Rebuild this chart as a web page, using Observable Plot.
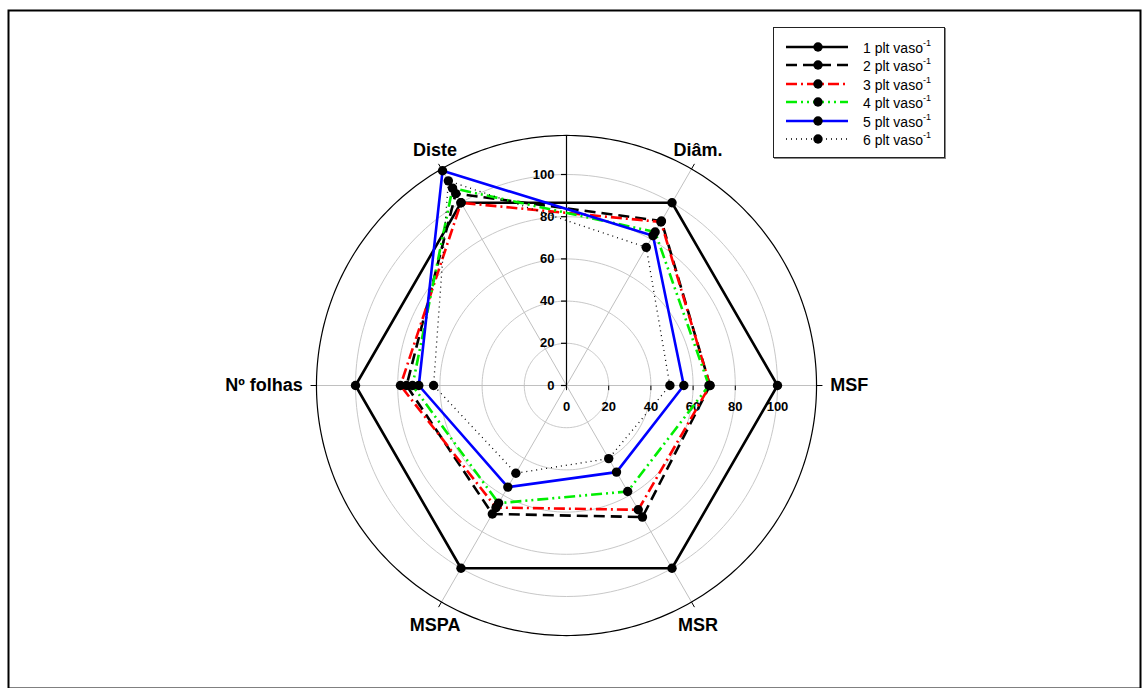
<!DOCTYPE html>
<html><head><meta charset="utf-8">
<script src="https://cdn.jsdelivr.net/npm/d3@7"></script>
<script src="https://cdn.jsdelivr.net/npm/@observablehq/plot@0.6"></script>
<style>
body{margin:0;background:#fff;font-family:"Liberation Sans",Arial,sans-serif;}
#wrap{position:relative;width:1148px;height:688px;overflow:hidden;}
#legend{position:absolute;left:773px;top:27px;width:172px;height:131px;border:1px solid #222;box-sizing:border-box;background:#fff;box-shadow:1px 1px 0 #888;}
.row{position:absolute;left:0;height:18px;width:170px;}
.row svg{position:absolute;left:0;top:0;}
.row span{position:absolute;left:89px;top:1px;font-size:14px;color:#000;white-space:nowrap;}
.row sup{font-size:9px;position:relative;top:-1px;}
</style></head>
<body><div id="wrap"><div id="chart"></div><div id="legend"></div></div>
<script>
const axes = ["MSF","Diâm.","Diste","Nº folhas","MSPA","MSR"];
const seriesNames = ["1 plt vaso","2 plt vaso","3 plt vaso","4 plt vaso","5 plt vaso","6 plt vaso"];
const s1 = [100, 100, 100, 100, 100, 100];
const s2 = [68, 90, 105, 75.8, 70.3, 72];
const s3 = [68, 89.5, 100, 78.7, 66.8, 68];
const s4 = [67.5, 84, 108, 73, 64.4, 58];
const s5 = [55.6, 82, 117.5, 70, 55.6, 47.4];
const s6 = [49, 75.6, 112, 63, 48, 40];
const ringValues = [20, 40, 60, 80, 100];
const tickValues = [0, 20, 40, 60, 80, 100];
const outerValue = 118.5;

const allSeries = [s1, s2, s3, s4, s5, s6];
const styles = [
  {stroke:"black", strokeWidth:2.6, dash:null},
  {stroke:"black", strokeWidth:2.6, dash:"11,6"},
  {stroke:"#ff0000", strokeWidth:2.6, dash:"11,4,2,4"},
  {stroke:"#00ee00", strokeWidth:2.6, dash:"11,4,2,4,2,4"},
  {stroke:"#0000ff", strokeWidth:2.6, dash:null},
  {stroke:"black", strokeWidth:1.3, dash:"1,4"}
];

const K = 2.11, cx = 566, cy = 385;
const W = 1148, H = 688, mL = 8, mT = 10, mR = 8, mB = 0;
const rad = d => d * Math.PI / 180;
const ang = i => i * 60;
const pol = (v, a) => ({x: v * Math.cos(rad(a)), y: v * Math.sin(rad(a))});

const seriesPts = allSeries.map((vals, s) => vals.map((v, i) => ({...pol(v, ang(i)), s, axis: axes[i], v})));
const closed = seriesPts.map(p => [...p, p[0]]);

const ringPts = [];
for (const r of ringValues) for (const a of d3.range(0, 361, 2)) ringPts.push({...pol(r, a), r});
const outerPts = d3.range(0, 361, 1).map(a => pol(outerValue, a));

const spokes = axes.map((n, i) => ({a: ang(i)}));
const labels = axes.map((n, i) => ({n, i}));
const labelX = d => (d.i % 3 === 0 ? 125 : 129) * Math.cos(rad(ang(d.i))) + (d.i===2||d.i===4 ? 2.2 : (d.i===1||d.i===5 ? -2.2 : 0));
const labelY = d => (d.i % 3 === 0 ? 0 : (d.i < 3 ? 111.6 : -113.6));
const labelOpts = {x: labelX, y: labelY, text: "n", fontWeight: "bold", fontSize: 18, fill: "black"};

const marks = [
  Plot.line(ringPts, {x:"x", y:"y", z:"r", stroke:"#c8c8c8", strokeWidth:1}),
  Plot.link(spokes, {x1:0, y1:0, x2:d => outerValue*Math.cos(rad(d.a)), y2:d => outerValue*Math.sin(rad(d.a)), stroke:"#c0c0c0", strokeWidth:1}),
  Plot.line(outerPts, {x:"x", y:"y", stroke:"black", strokeWidth:1.2}),
  Plot.link(spokes, {x1:d => outerValue*Math.cos(rad(d.a)), y1:d => outerValue*Math.sin(rad(d.a)), x2:d => (outerValue+2.8)*Math.cos(rad(d.a)), y2:d => (outerValue+2.8)*Math.sin(rad(d.a)), stroke:"black", strokeWidth:1}),
  Plot.link([0], {x1:0, y1:0, x2:0, y2:outerValue, stroke:"black", strokeWidth:1.2}),
  Plot.link(tickValues, {x1:-2.6, x2:0, y1:d => d, y2:d => d, stroke:"black", strokeWidth:1.2}),
  Plot.text(tickValues, {x:0, y:d => d, text:d => String(d), dx:-12, textAnchor:"end", fontWeight:"bold", fontSize:13, fill:"black"}),
  Plot.link(tickValues, {x1:d => d, x2:d => d, y1:0, y2:-2.2, stroke:"black", strokeWidth:1}),
  Plot.text(tickValues, {x:d => d, y:0, text:d => String(d), dy:21, fontWeight:"bold", fontSize:13, fill:"black"}),
  ...closed.map((pts, s) => Plot.line(pts, {x:"x", y:"y", stroke:styles[s].stroke, strokeWidth:styles[s].strokeWidth, strokeDasharray:styles[s].dash, strokeLinejoin:"miter", strokeLinecap:"butt"})),
  Plot.dot(seriesPts.flat(), {x:"x", y:"y", r:4.7, fill:"black", stroke:"none"}),
  Plot.text(labels.filter(d => d.i === 0), {...labelOpts, textAnchor: "start"}),
  Plot.text(labels.filter(d => d.i === 3), {...labelOpts, textAnchor: "end"}),
  Plot.text(labels.filter(d => d.i % 3 !== 0), {...labelOpts, textAnchor: "middle"}),
  Plot.frame({stroke:"black", strokeWidth:2})
];

const chart = Plot.plot({
  width: W, height: H,
  marginLeft: mL, marginTop: mT, marginRight: mR, marginBottom: mB,
  x: {domain: [(mL - cx) / K, (W - mR - cx) / K], axis: null},
  y: {domain: [(cy - (H - mB)) / K, (cy - mT) / K], axis: null},
  style: {fontFamily: "'Liberation Sans', Arial, sans-serif", background: "white"},
  marks
});
document.getElementById("chart").appendChild(chart);

const leg = document.getElementById("legend");
seriesNames.forEach((name, s) => {
  const st = styles[s];
  const row = document.createElement("div");
  row.className = "row";
  row.style.top = (10 + s * 18.4) + "px";
  row.innerHTML = `<svg width="80" height="18"><line x1="12" x2="74" y1="9" y2="9" stroke="${st.stroke}" stroke-width="${st.strokeWidth}" ${st.dash ? `stroke-dasharray="${st.dash}"` : ""}/><circle cx="44" cy="9" r="4.7" fill="black"/></svg><span>${name}<sup>-1</sup></span>`;
  leg.appendChild(row);
});
</script>
</body></html>
